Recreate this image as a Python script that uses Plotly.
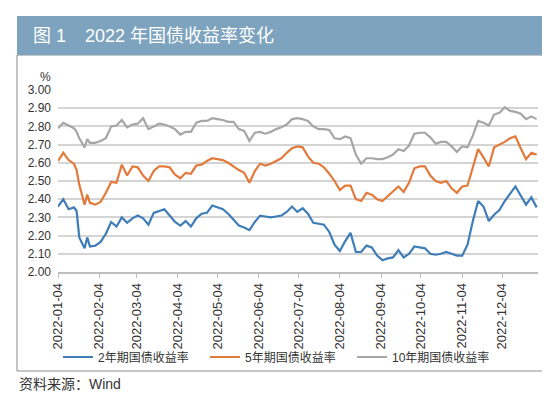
import plotly.graph_objects as go

dates = [
    "2022-01-04", "2022-01-08", "2022-01-12", "2022-01-16", "2022-01-18", "2022-01-20",
    "2022-01-24", "2022-01-26", "2022-01-28", "2022-02-01", "2022-02-05", "2022-02-09",
    "2022-02-13", "2022-02-17", "2022-02-21", "2022-02-25", "2022-03-01", "2022-03-05",
    "2022-03-09", "2022-03-13", "2022-03-17", "2022-03-21", "2022-03-25", "2022-03-29",
    "2022-04-02", "2022-04-06", "2022-04-10", "2022-04-14", "2022-04-18", "2022-04-22",
    "2022-04-26", "2022-04-30", "2022-05-04", "2022-05-08", "2022-05-12", "2022-05-16",
    "2022-05-20", "2022-05-24", "2022-05-28", "2022-06-01", "2022-06-05", "2022-06-09",
    "2022-06-13", "2022-06-17", "2022-06-21", "2022-06-25", "2022-06-29", "2022-07-03",
    "2022-07-07", "2022-07-11", "2022-07-15", "2022-07-19", "2022-07-23", "2022-07-27",
    "2022-07-31", "2022-08-04", "2022-08-08", "2022-08-12", "2022-08-16", "2022-08-20",
    "2022-08-24", "2022-08-28", "2022-09-01", "2022-09-05", "2022-09-09", "2022-09-13",
    "2022-09-17", "2022-09-21", "2022-09-25", "2022-09-29", "2022-10-03", "2022-10-07",
    "2022-10-11", "2022-10-15", "2022-10-19", "2022-10-23", "2022-10-27", "2022-10-31",
    "2022-11-04", "2022-11-08", "2022-11-12", "2022-11-16", "2022-11-20", "2022-11-24",
    "2022-11-28", "2022-12-02", "2022-12-06", "2022-12-10", "2022-12-14", "2022-12-18",
    "2022-12-22", "2022-12-26", "2022-12-30",
]

y2 = [
    2.36, 2.40, 2.345, 2.355, 2.335, 2.19, 2.13, 2.19, 2.14, 2.145, 2.165, 2.21,
    2.275, 2.25, 2.30, 2.27, 2.295, 2.31, 2.295, 2.26, 2.325, 2.335, 2.345, 2.31,
    2.275, 2.255, 2.28, 2.25, 2.295, 2.32, 2.325, 2.365, 2.355, 2.345, 2.32, 2.29,
    2.255, 2.245, 2.23, 2.275, 2.31, 2.305, 2.30, 2.305, 2.31, 2.33, 2.36, 2.33,
    2.35, 2.32, 2.27, 2.265, 2.26, 2.22, 2.15, 2.115, 2.17, 2.215, 2.11, 2.11,
    2.145, 2.135, 2.09, 2.065, 2.075, 2.08, 2.12, 2.08, 2.10, 2.14, 2.135, 2.13,
    2.10, 2.095, 2.10, 2.11, 2.10, 2.09, 2.09, 2.15, 2.28, 2.39, 2.36, 2.28,
    2.315, 2.34, 2.39, 2.43, 2.47, 2.42, 2.37, 2.41, 2.355,
]

y5 = [
    2.61, 2.655, 2.615, 2.595, 2.56, 2.48, 2.37, 2.425, 2.38, 2.37, 2.385, 2.435,
    2.495, 2.49, 2.59, 2.53, 2.58, 2.575, 2.53, 2.50, 2.555, 2.58, 2.58, 2.575,
    2.535, 2.515, 2.545, 2.54, 2.585, 2.59, 2.61, 2.625, 2.62, 2.615, 2.60, 2.58,
    2.56, 2.545, 2.49, 2.555, 2.595, 2.585, 2.595, 2.61, 2.625, 2.655, 2.68, 2.69,
    2.685, 2.635, 2.60, 2.595, 2.575, 2.54, 2.50, 2.45, 2.475, 2.475, 2.40, 2.39,
    2.435, 2.425, 2.40, 2.39, 2.415, 2.445, 2.47, 2.44, 2.49, 2.57, 2.58, 2.58,
    2.53, 2.50, 2.49, 2.50, 2.46, 2.435, 2.47, 2.475, 2.58, 2.675, 2.63, 2.58,
    2.685, 2.70, 2.715, 2.735, 2.745, 2.68, 2.62, 2.655, 2.645,
]

y10 = [
    2.79, 2.82, 2.805, 2.79, 2.77, 2.735, 2.685, 2.73, 2.71, 2.71, 2.72, 2.735,
    2.80, 2.805, 2.835, 2.795, 2.81, 2.815, 2.845, 2.785, 2.80, 2.815, 2.81, 2.80,
    2.785, 2.755, 2.77, 2.77, 2.82, 2.83, 2.83, 2.845, 2.84, 2.835, 2.825, 2.825,
    2.785, 2.775, 2.72, 2.765, 2.77, 2.76, 2.77, 2.785, 2.795, 2.81, 2.84, 2.845,
    2.84, 2.83, 2.80, 2.785, 2.785, 2.78, 2.735, 2.73, 2.745, 2.735, 2.645, 2.595,
    2.625, 2.625, 2.62, 2.62, 2.63, 2.645, 2.675, 2.665, 2.695, 2.76, 2.765, 2.765,
    2.74, 2.705, 2.715, 2.715, 2.69, 2.66, 2.69, 2.685, 2.75, 2.83, 2.82, 2.805,
    2.865, 2.875, 2.905, 2.885, 2.88, 2.87, 2.84, 2.855, 2.84,
]

series_names = ["2年期国债收益率", "5年期国债收益率", "10年期国债收益率"]
series_colors = ["#3F7DB8", "#E27A3C", "#A6A6A6"]

tick_dates = ["2022-01-04", "2022-02-04", "2022-03-04", "2022-04-04", "2022-05-04",
              "2022-06-04", "2022-07-04", "2022-08-04", "2022-09-04", "2022-10-04",
              "2022-11-04", "2022-12-04"]
tick_labels = list(tick_dates)

title_num = "图 1"
title_text = "2022 年国债收益率变化"
source_text = "资料来源：Wind"

assert len(dates) == len(y2) == len(y5) == len(y10)

W, H = 550, 395
PL, PR, PT, PB = 50, 530, 82, 264


def px(x):
    return (x - PL) / (PR - PL)


def py(y):
    return (PB - y) / (PB - PT)


FONT = "Liberation Sans, Arial, Noto Sans CJK SC, sans-serif"

fig = go.Figure()
for name, vals, col in zip(series_names, [y2, y5, y10], series_colors):
    fig.add_trace(go.Scatter(x=dates, y=vals, mode="lines", name=name,
                             line=dict(color=col, width=2.2)))

fig.update_layout(
    width=W, height=H,
    margin=dict(l=PL, r=W - PR, t=PT, b=H - PB, autoexpand=False),
    paper_bgcolor="white", plot_bgcolor="white",
    font=dict(family=FONT, color="#333333", size=12),
    showlegend=True,
    legend=dict(orientation="h", x=px(50), y=py(349), xanchor="left", yanchor="middle",
                font=dict(size=12, color="#333333"), entrywidth=102, itemwidth=30,
                bgcolor="rgba(0,0,0,0)", tracegroupgap=0),
    xaxis=dict(type="date", range=["2022-01-04", "2022-12-31"],
               tickvals=tick_dates, ticktext=tick_labels, tickangle=-90,
               ticks="outside", ticklen=4, tickcolor="#bdbdbd", tickwidth=1,
               showline=True, linecolor="#bdbdbd", linewidth=1.5,
               showgrid=False, zeroline=False,
               tickfont=dict(size=13, color="#333333")),
    yaxis=dict(range=[2.0, 3.0], dtick=0.1, tick0=2.0, tickformat=".2f",
               showgrid=True, gridcolor="#d4d4d4", gridwidth=2,
               zeroline=False, showline=False, ticks="",
               ticklabelstandoff=6,
               tickfont=dict(size=12, color="#333333")),
    shapes=[
        dict(type="rect", xref="paper", yref="paper", x0=px(9), x1=px(540),
             y0=py(47), y1=py(363), line=dict(color="#8c8c8c", width=1),
             fillcolor="rgba(0,0,0,0)", layer="below"),
        dict(type="rect", xref="paper", yref="paper", x0=px(9), x1=px(540),
             y0=py(47), y1=py(8), line=dict(width=0), fillcolor="#7DA3BE",
             layer="below"),
    ],
    annotations=[
        dict(text=title_num, xref="paper", yref="paper", x=px(23), y=py(28),
             xanchor="left", yanchor="middle", showarrow=False,
             font=dict(size=18, color="white")),
        dict(text=title_text, xref="paper", yref="paper", x=px(75), y=py(28),
             xanchor="left", yanchor="middle", showarrow=False,
             font=dict(size=18, color="white")),
        dict(text="%", xref="paper", yref="paper", x=px(37), y=py(69),
             xanchor="center", yanchor="middle", showarrow=False,
             font=dict(size=12, color="#333333")),
        dict(text=source_text, xref="paper", yref="paper", x=px(9), y=py(376),
             xanchor="left", yanchor="middle", showarrow=False,
             font=dict(size=14, color="#333333")),
    ],
)

fig.write_html("out.html")
